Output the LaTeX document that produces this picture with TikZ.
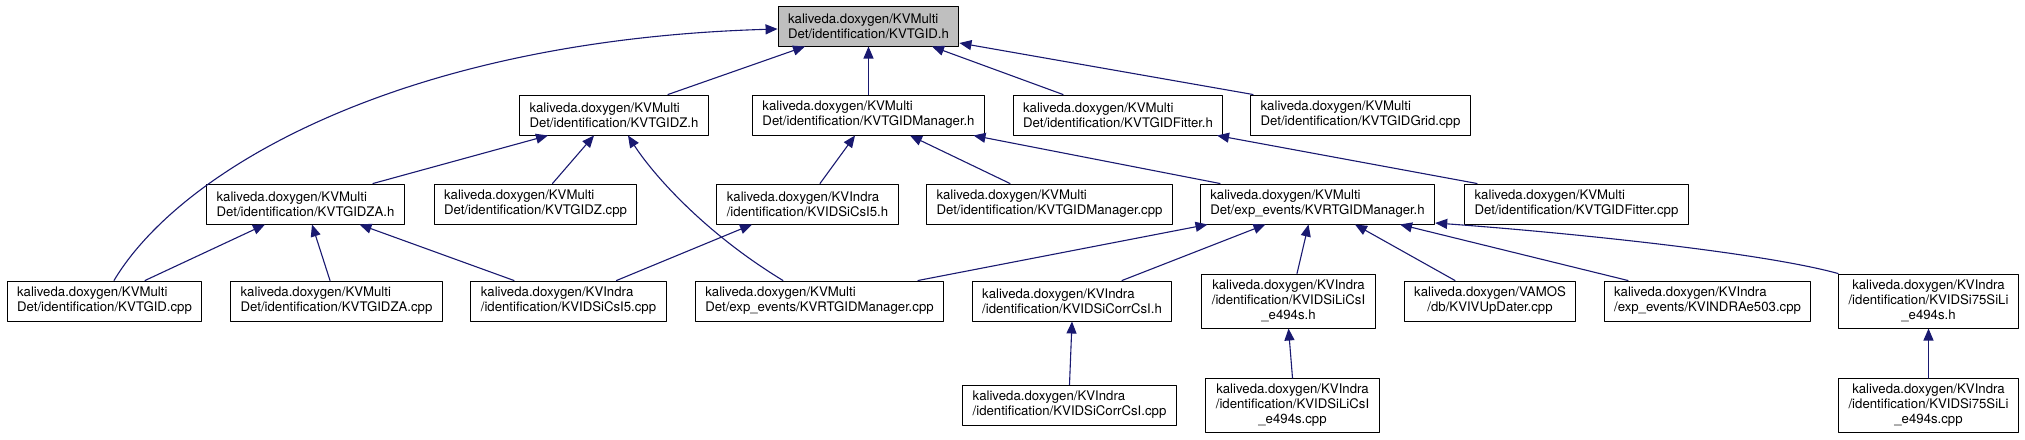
\documentclass[tikz,border=0pt]{standalone}
\usepackage{fontspec}
\setmainfont{TeX Gyre Heros}
\usepackage{xcolor}
\usepackage{tikz}
\usetikzlibrary{arrows.meta}
\definecolor{depblue}{RGB}{25,25,112}
\definecolor{grey75}{RGB}{191,191,191}
\tikzset{
  file/.style={draw=black, fill=white, line width=1pt, align=left, inner xsep=10pt, inner ysep=3pt,
    minimum height=40pt, font=\fontsize{13.2}{15}\selectfont},
  file3/.style={file, align=center, minimum height=54pt},
  rootfile/.style={file, fill=grey75},
  dep/.style={draw=depblue, line width=1.1pt, -{Triangle[length=12pt,width=10pt]}},
  every picture/.style={line cap=round, line join=round}
}
\begin{document}
\begin{tikzpicture}[x=1pt, y=-1pt]
  \useasboundingbox (0,0) rectangle (2025,439);
  \node[rootfile] (tgidh) at (868.5,26) {kaliveda.doxygen/KVMulti\\Det/identification/KVTGID.h};

  \node[file] (tgidzh) at (614,115) {kaliveda.doxygen/KVMulti\\Det/identification/KVTGIDZ.h};
  \node[file] (mgrh) at (868.5,115) {kaliveda.doxygen/KVMulti\\Det/identification/KVTGIDManager.h};
  \node[file] (fith) at (1118,115) {kaliveda.doxygen/KVMulti\\Det/identification/KVTGIDFitter.h};
  \node[file] (gridc) at (1360.5,115) {kaliveda.doxygen/KVMulti\\Det/identification/KVTGIDGrid.cpp};

  \node[file] (tgidzah) at (305.5,204) {kaliveda.doxygen/KVMulti\\Det/identification/KVTGIDZA.h};
  \node[file] (tgidzc) at (535.5,204) {kaliveda.doxygen/KVMulti\\Det/identification/KVTGIDZ.cpp};
  \node[file] (sicsih) at (807.5,204) {kaliveda.doxygen/KVIndra\\/identification/KVIDSiCsI5.h};
  \node[file] (mgrc) at (1049.5,204) {kaliveda.doxygen/KVMulti\\Det/identification/KVTGIDManager.cpp};
  \node[file] (rtgih) at (1317.5,204) {kaliveda.doxygen/KVMulti\\Det/exp\_events/KVRTGIDManager.h};
  \node[file] (fitc) at (1576.5,204) {kaliveda.doxygen/KVMulti\\Det/identification/KVTGIDFitter.cpp};

  \node[file] (tgidc) at (104.5,301) {kaliveda.doxygen/KVMulti\\Det/identification/KVTGID.cpp};
  \node[file] (tgidzac) at (336.5,301) {kaliveda.doxygen/KVMulti\\Det/identification/KVTGIDZA.cpp};
  \node[file] (sicsic) at (568.5,301) {kaliveda.doxygen/KVIndra\\/identification/KVIDSiCsI5.cpp};
  \node[file] (rtgic) at (819.5,301) {kaliveda.doxygen/KVMulti\\Det/exp\_events/KVRTGIDManager.cpp};
  \node[file] (corrh) at (1072,301) {kaliveda.doxygen/KVIndra\\/identification/KVIDSiCorrCsI.h};
  \node[file3] (silih) at (1288.5,301) {kaliveda.doxygen/KVIndra\\/identification/KVIDSiLiCsI\\\_e494s.h};
  \node[file, align=center] (updc) at (1490,301) {kaliveda.doxygen/VAMOS\\/db/KVIVUpDater.cpp};
  \node[file] (e503c) at (1707.5,301) {kaliveda.doxygen/KVIndra\\/exp\_events/KVINDRAe503.cpp};
  \node[file3] (si75h) at (1928.5,301) {kaliveda.doxygen/KVIndra\\/identification/KVIDSi75SiLi\\\_e494s.h};

  \node[file] (corrc) at (1069.5,405) {kaliveda.doxygen/KVIndra\\/identification/KVIDSiCorrCsI.cpp};
  \node[file3] (silic) at (1292.5,405.5) {kaliveda.doxygen/KVIndra\\/identification/KVIDSiLiCsI\\\_e494s.cpp};
  \node[file3] (si75c) at (1928.5,405.5) {kaliveda.doxygen/KVIndra\\/identification/KVIDSi75SiLi\\\_e494s.cpp};

  % includes of KVTGID.h
  \draw[dep] ([xshift=54]tgidzh.north) -- ([xshift=-63.5]tgidh.south);
  \draw[dep] (mgrh.north) -- (tgidh.south);
  \draw[dep] ([xshift=-55]fith.north) -- ([xshift=63.5]tgidh.south);
  \draw[dep] ([xshift=-107.5]gridc.north) -- ([yshift=-17]tgidh.east);
  \draw[dep] ([xshift=9.5]tgidc.north) .. controls (180,170) and (400,40) .. ([yshift=-3]tgidh.west);

  \draw[dep] ([xshift=67.5]tgidzah.north) -- ([xshift=-66]tgidzh.south);
  \draw[dep] ([xshift=17]tgidzc.north) -- ([xshift=-20]tgidzh.south);
  \draw[dep] ([xshift=-36.5]rtgic.north) .. controls (700,230) and (650,170) .. ([xshift=14]tgidzh.south);

  \draw[dep] ([xshift=12.5]sicsih.north) -- ([xshift=-13.5]mgrh.south);
  \draw[dep] ([xshift=-39.5]mgrc.north) -- ([xshift=41.5]mgrh.south);
  \draw[dep] ([xshift=-97.5]rtgih.north) -- ([xshift=105]mgrh.south);
  \draw[dep] ([xshift=-99.5]fitc.north) -- ([xshift=99]fith.south);

  \draw[dep] ([xshift=40.5]tgidc.north) -- ([xshift=-40.5]tgidzah.south);
  \draw[dep] ([xshift=-6.5]tgidzac.north) -- ([xshift=6.5]tgidzah.south);
  \draw[dep] ([xshift=-54.5]sicsic.north) -- ([xshift=54]tgidzah.south);
  \draw[dep] ([xshift=48]sicsic.north) -- ([xshift=-55.5]sicsih.south);

  \draw[dep] ([xshift=98.5]rtgic.north) -- ([xshift=-110]rtgih.south);
  \draw[dep] ([xshift=50]corrh.north) -- ([xshift=-52]rtgih.south);
  \draw[dep] ([xshift=8.5]silih.north) -- ([xshift=-9]rtgih.south);
  \draw[dep] ([xshift=-35]updc.north) -- ([xshift=37.5]rtgih.south);
  \draw[dep] ([xshift=-79.5]e503c.north) -- ([xshift=82.5]rtgih.south);
  \draw[dep] (si75h.north west) .. controls (1760,252) and (1560,232) .. ([yshift=-19]rtgih.east);

  \draw[dep] (corrc.north) -- (corrh.south);
  \draw[dep] (silic.north) -- (silih.south);
  \draw[dep] (si75c.north) -- (si75h.south);
\end{tikzpicture}
\end{document}
